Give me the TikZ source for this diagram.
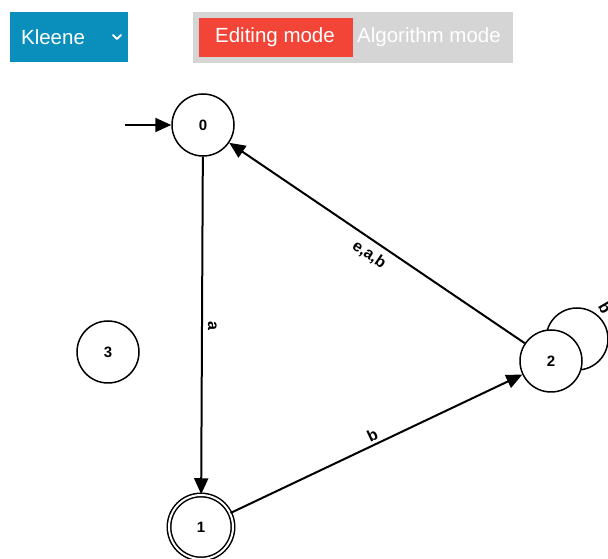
\documentclass[tikz,border=0pt]{standalone}
\usepackage{fontspec}
\setmainfont{Liberation Sans}
\usetikzlibrary{arrows.meta}
\definecolor{kblue}{HTML}{0A8FBD}
\definecolor{kred}{HTML}{F24538}
\definecolor{kgray}{HTML}{D5D5D5}
\tikzset{
  state/.style={circle, draw, line width=1.5pt, fill=white, minimum size=62pt, inner sep=0pt, font=\bfseries\fontsize{15}{17}\selectfont},
  accept/.style={state, double, double distance=2pt, minimum size=64pt},
  edge/.style={line width=2pt, -{Triangle[length=16pt,width=14pt]}},
  elabel/.style={font=\bfseries\fontsize{16}{18}\selectfont, inner sep=3pt},
  btn/.style={text=white, font=\fontsize{20.5}{22}\selectfont}
}
\begin{document}
\begin{tikzpicture}[x=1pt,y=1pt]
\useasboundingbox (0,0) rectangle (608,559);
\clip (0,0) rectangle (608,559);
% top controls
\fill[kblue] (10,497) rectangle (128,547);
\node[btn] (kleene) at (53,522) {Kleene};
\draw[white, line width=1.8pt, line cap=round, line join=round] (113,524) -- (117,520) -- (121,524);
\fill[kgray] (193,496) rectangle (513,547);
\fill[kred] (199,502) rectangle (353,541);
\node[btn] (edit) at (275,522) {Editing mode};
\node[btn] (algo) at (429,522) {Algorithm mode};
% self loop on 2 (behind node)
\draw[line width=1.5pt] (577,220) circle (31);
\node[elabel, rotate=-60] (loopb) at (605,251) {b};
% states
\node[state] (s0) at (203,434) {0};
\node[state] (s3) at (108,207) {3};
\node[accept] (s1) at (201,32) {1};
\node[state] (s2) at (551,198) {2};
\coordinate (start) at (125,434);
% edges
\draw[edge] (start) -- (s0);
\draw[edge] (s0) -- node[elabel, rotate=-90, anchor=south, inner sep=5pt, pos=0.5] {a} (s1);
\draw[edge] (s1) -- node[elabel, sloped, above, pos=0.5] {b} (s2);
\draw[line width=2pt, {Triangle[length=16pt,width=14pt]}-] (s0) -- node[elabel, sloped, below, inner sep=6pt, pos=0.5] {e,a,b} (s2);
\end{tikzpicture}
\end{document}
